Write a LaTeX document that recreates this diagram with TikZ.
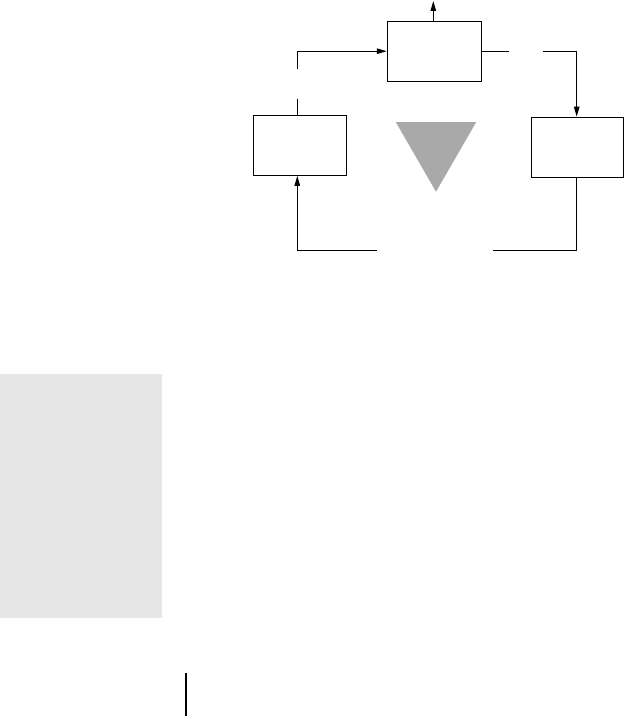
\documentclass[tikz,border=0pt]{standalone}
\usetikzlibrary{arrows.meta}
\definecolor{trigray}{HTML}{A9A9A9}
\definecolor{panelgray}{HTML}{E6E6E6}
\begin{document}
\begin{tikzpicture}[x=1pt,y=-1pt,
  ln/.style={line width=1.1pt},
  arr/.style={ln,-{Triangle[length=10pt,width=5.5pt]}},
  blk/.style={draw,line width=1.1pt,minimum height=60pt,inner sep=0pt}]
\useasboundingbox (0,0) rectangle (625,717);
% panel and mark
\fill[panelgray] (0,374) rectangle (161.7,618.3);
\draw[ln] (186,673) -- (186,716);
% boxes
\node[blk,minimum width=94pt] (top) at (434.3,51.2) {};
\node[blk,minimum width=93pt] (left) at (300,145.3) {};
\node[blk,minimum width=92pt] (right) at (577.5,147.2) {};
% triangle
\fill[trigray] (395.7,122) -- (476.3,122) -- (436,191.7) -- cycle;
% output arrow
\coordinate (outT) at (433.3,1);
\draw[arr] (top.north -| outT) -- (outT);
% left to top
\coordinate (g1) at (297.3,68.7);
\coordinate (g2) at (297.3,98.7);
\draw[arr] (g1) |- (top.west);
\draw[ln] (g2) -- (g2 |- left.north);
% top to right
\coordinate (g3) at (508.7,51.2);
\coordinate (g4) at (542.7,51.2);
\coordinate (rx) at (576.7,0);
\draw[ln] (top.east) -- (g3);
\draw[arr] (g4) -| (right.north -| rx);
% right to left
\coordinate (g5) at (493.3,250.5);
\coordinate (g6) at (376.7,250.5);
\draw[ln] (right.south -| rx) |- (g5);
\draw[arr] (g6) -| (left.south -| g2);
\end{tikzpicture}
\end{document}
